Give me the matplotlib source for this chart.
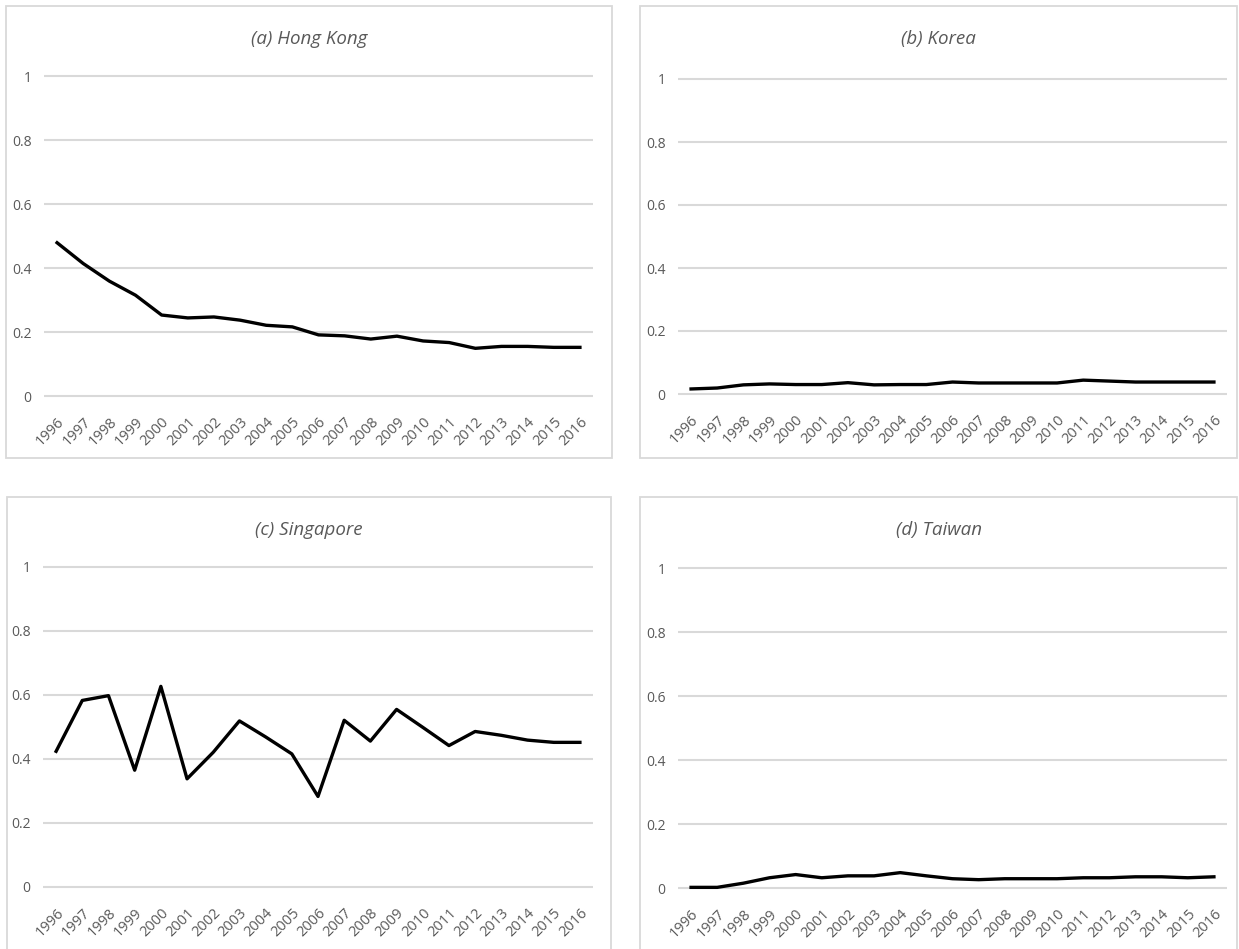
import matplotlib
matplotlib.use("Agg")
import matplotlib.pyplot as plt
from matplotlib import font_manager
from matplotlib.patches import Rectangle

# narrow sans, close to the spreadsheet default
available = {f.name for f in font_manager.fontManager.ttflist}
family = "Liberation Sans Narrow" if "Liberation Sans Narrow" in available else "Open Sans"
plt.rcParams["font.family"] = [family, "DejaVu Sans"]

years = [str(y) for y in range(1996, 2017)]

hong_kong = [0.479, 0.414, 0.359, 0.315, 0.253, 0.244, 0.247, 0.237, 0.221, 0.216, 0.191,
             0.188, 0.178, 0.187, 0.172, 0.167, 0.149, 0.155, 0.155, 0.152, 0.152]
korea = [0.016, 0.019, 0.029, 0.032, 0.030, 0.030, 0.036, 0.029, 0.030, 0.030, 0.038,
         0.035, 0.035, 0.035, 0.035, 0.044, 0.041, 0.038, 0.038, 0.038, 0.038]
singapore = [0.424, 0.583, 0.598, 0.365, 0.627, 0.338, 0.421, 0.519, 0.469, 0.416, 0.283,
             0.521, 0.456, 0.555, 0.499, 0.442, 0.486, 0.474, 0.459, 0.452, 0.452]
taiwan = [0.002, 0.002, 0.015, 0.032, 0.042, 0.032, 0.038, 0.038, 0.048, 0.038, 0.029,
          0.026, 0.029, 0.029, 0.029, 0.032, 0.032, 0.035, 0.035, 0.032, 0.035]

titles = ["(a) Hong Kong", "(b) Korea", "(c) Singapore", "(d) Taiwan"]
series = [hong_kong, korea, singapore, taiwan]
y_ticks = [0, 0.2, 0.4, 0.6, 0.8, 1]
y_labels = ["0", "0.2", "0.4", "0.6", "0.8", "1"]

W, H = 1239, 949
fig = plt.figure(figsize=(W / 100, H / 100), dpi=100)

# pixel layout: (box left, box top, box right, box bottom, plot left, plot right, y of 1, y of 0)
panels = [
    (6, 6, 612, 458, 44, 593, 76, 396),
    (640, 6, 1237, 458, 678, 1227, 79, 394),
    (7, 497, 611, 960, 43, 593, 567, 887),
    (640, 497, 1237, 960, 678, 1227, 568, 888),
]

grey = "#d9d9d9"
text_grey = "#595959"
pad = 0.01

for (bl, bt, br, bb, pl, pr, y1, y0), title, values in zip(panels, titles, series):
    # panel frame
    fig.patches.append(Rectangle((bl / W, 1 - bb / H), (br - bl) / W, (bb - bt) / H,
                                 transform=fig.transFigure, fill=False,
                                 edgecolor=grey, linewidth=1.3))
    unit = (y0 - y1)
    top = y1 - unit * pad
    bottom = y0 + unit * pad
    ax = fig.add_axes([pl / W, 1 - bottom / H, (pr - pl) / W, (bottom - top) / H])
    ax.plot(range(len(years)), values, color="black", linewidth=2.4,
            solid_joinstyle="round", zorder=3)
    ax.set_xlim(-0.5, len(years) - 0.5)
    ax.set_ylim(-pad, 1 + pad)
    ax.set_yticks(y_ticks)
    ax.set_yticklabels(y_labels)
    ax.set_xticks(range(len(years)))
    ax.set_xticklabels(years, rotation=45, ha="right", rotation_mode="anchor")
    for s in ax.spines.values():
        s.set_visible(False)
    ax.grid(axis="y", color=grey, linewidth=1.5)
    ax.set_axisbelow(True)
    ax.tick_params(axis="both", length=0, colors=text_grey)
    ax.tick_params(axis="y", pad=9, labelsize=10)
    ax.tick_params(axis="x", pad=11, labelsize=10.5)
    ax.set_facecolor("none")
    fig.text((bl + br) / 2 / W, 1 - (bt + 33) / H, title, ha="center", va="center",
             fontsize=13.5, style="italic", color=text_grey)

fig.savefig("out.png", dpi=100)
